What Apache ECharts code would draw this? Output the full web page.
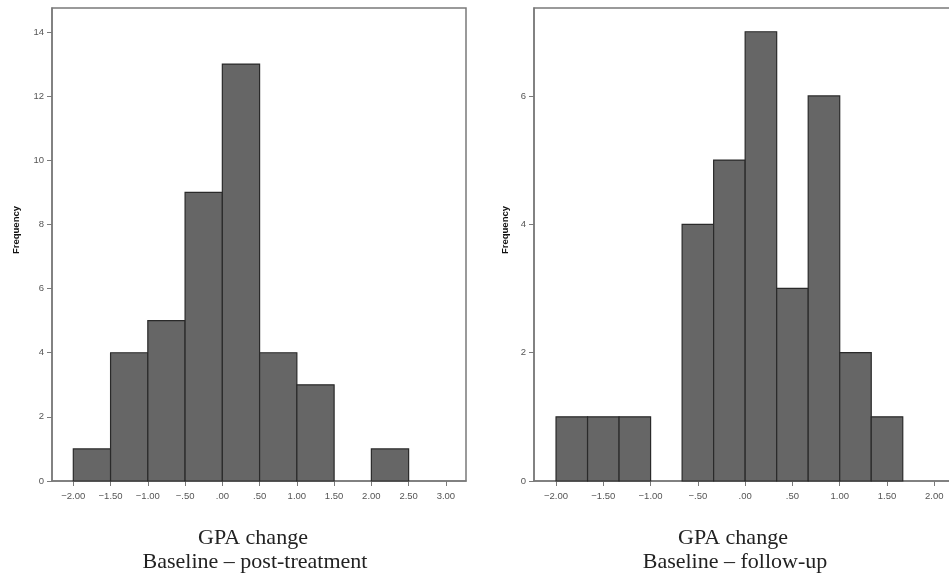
<!DOCTYPE html>
<html><head><meta charset="utf-8">
<script src="https://cdn.jsdelivr.net/npm/echarts@6/dist/echarts.min.js"></script>
<style>html,body{margin:0;padding:0;background:#fff}#c{width:949px;height:575px}</style>
</head><body><div id="c"></div>
<script>
// Left histogram: GPA change, baseline – post-treatment (bin width 0.5)
const leftBinStarts = [-2.0, -1.5, -1.0, -0.5, 0.0, 0.5, 1.0, 1.5, 2.0];
const leftCounts    = [1, 4, 5, 9, 13, 4, 3, 0, 1];
const leftBinWidth  = 0.5;
const leftXTicks = [-2.0, -1.5, -1.0, -0.5, 0.0, 0.5, 1.0, 1.5, 2.0, 2.5, 3.0];
const leftYTicks = [0, 2, 4, 6, 8, 10, 12, 14];

// Right histogram: GPA change, baseline – follow-up (bin width 1/3)
const rightBinStarts = [-2.0, -5/3, -4/3, -1.0, -2/3, -1/3, 0.0, 1/3, 2/3, 1.0, 4/3];
const rightCounts    = [1, 1, 1, 0, 4, 5, 7, 3, 6, 2, 1];
const rightBinWidth  = 1/3;
const rightXTicks = [-2.0, -1.5, -1.0, -0.5, 0.0, 0.5, 1.0, 1.5, 2.0];
const rightYTicks = [0, 2, 4, 6];

const yTitle = 'Frequency';
const leftTitle = ['GPA change', 'Baseline \u2013 post-treatment'];
const rightTitle = ['GPA change', 'Baseline \u2013 follow-up'];

function fmt(v) {
  const a = Math.abs(v);
  let s = a.toFixed(2);
  if (a < 1) s = s.slice(1);
  return (v < -1e-9 ? '\u2212' : '') + s;
}
function toData(starts, counts, w) {
  return starts.map((s, i) => [s, s + w, counts[i]]).filter(d => d[2] > 0);
}
function renderBar(params, api) {
  const p0 = api.coord([api.value(0), api.value(2)]);
  const p1 = api.coord([api.value(1), 0]);
  return {
    type: 'rect',
    shape: { x: p0[0], y: p0[1], width: p1[0] - p0[0], height: p1[1] - p0[1] },
    style: { fill: '#666666', stroke: '#2a2a2a', lineWidth: 1.2 }
  };
}
const axisColor = '#7a7a7a';
const labelStyle = { color: '#555', fontSize: 9.5, fontFamily: 'Liberation Sans, Arial, sans-serif' };
function xAxis(gi, min, max, ticks) {
  return {
    type: 'value', gridIndex: gi, min: min, max: max,
    axisLine: { show: true, onZero: false, lineStyle: { color: axisColor, width: 1.5 } },
    axisTick: { show: true, length: 5, customValues: ticks, lineStyle: { color: axisColor } },
    axisLabel: Object.assign({ customValues: ticks, margin: 10, formatter: fmt, showMinLabel: true, showMaxLabel: true, hideOverlap: false }, labelStyle),
    splitLine: { show: false }
  };
}
function yAxis(gi, max, ticks) {
  return {
    type: 'value', gridIndex: gi, min: 0, max: max,
    axisLine: { show: true, onZero: false, lineStyle: { color: axisColor, width: 1.5 } },
    axisTick: { show: true, length: 5, customValues: ticks, lineStyle: { color: axisColor } },
    axisLabel: Object.assign({ customValues: ticks, margin: 8 }, labelStyle),
    splitLine: { show: false }
  };
}
const titleFont = { fontFamily: 'Liberation Serif, Times New Roman, serif', fontSize: 22, fill: '#222' };
function titleText(x, y, txt) {
  return { type: 'text', x: x, y: y, style: Object.assign({ text: txt, textAlign: 'center', textVerticalAlign: 'middle' }, titleFont) };
}
function freqText(x, y) {
  return { type: 'text', x: x, y: y, rotation: Math.PI / 2,
    style: { text: yTitle, textAlign: 'center', textVerticalAlign: 'middle', fontSize: 9.5, fontWeight: 'bold', fontFamily: 'Liberation Sans, Arial, sans-serif', fill: '#111' } };
}

const chart = echarts.init(document.getElementById('c'), null, { renderer: 'canvas' });
chart.setOption({
  animation: false,
  backgroundColor: '#fff',
  grid: [
    { left: 52, top: 8, width: 414, height: 473, show: true, borderColor: axisColor, borderWidth: 1.5, containLabel: false, outerBoundsMode: 'none' },
    { left: 534, top: 8, width: 440, height: 473, show: true, borderColor: axisColor, borderWidth: 1.5, containLabel: false, outerBoundsMode: 'none' }
  ],
  xAxis: [ xAxis(0, -2.286, 3.27, leftXTicks), xAxis(1, -2.233, 2.42, rightXTicks) ],
  yAxis: [ yAxis(0, 14.75, leftYTicks), yAxis(1, 7.37, rightYTicks) ],
  series: [
    { type: 'custom', xAxisIndex: 0, yAxisIndex: 0, renderItem: renderBar, encode: { x: [0, 1], y: 2 }, data: toData(leftBinStarts, leftCounts, leftBinWidth) },
    { type: 'custom', xAxisIndex: 1, yAxisIndex: 1, renderItem: renderBar, encode: { x: [0, 1], y: 2 }, data: toData(rightBinStarts, rightCounts, rightBinWidth) }
  ],
  graphic: [
    freqText(16.5, 230), freqText(505, 230),
    titleText(253, 538, leftTitle[0]), titleText(255, 562, leftTitle[1]),
    titleText(733, 538, rightTitle[0]), titleText(735, 562, rightTitle[1])
  ]
});
</script></body></html>
